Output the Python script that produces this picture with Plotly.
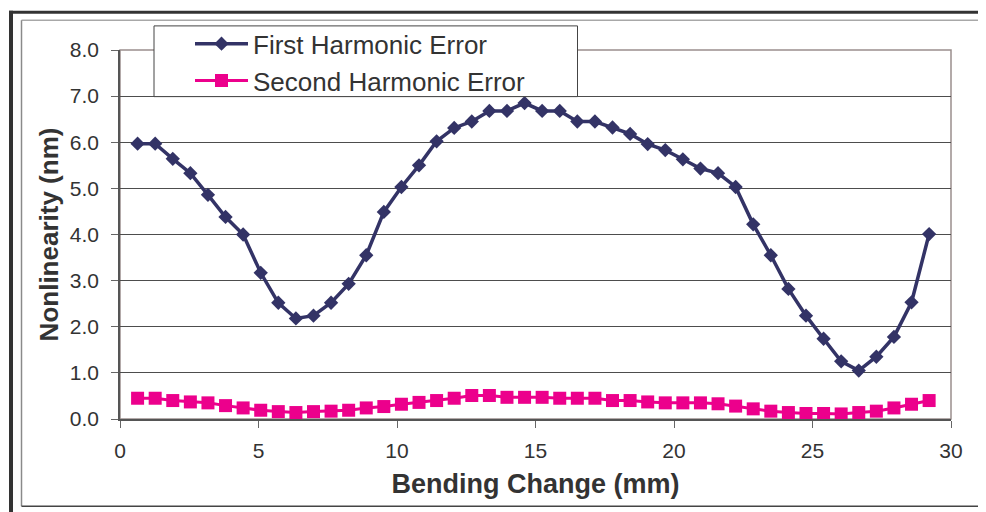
import plotly.graph_objects as go

# ---------------- data ----------------
bending_change_mm = [round(0.635 * k, 3) for k in range(1, 47)]

first_harmonic_error = [
    5.97, 5.97, 5.64, 5.33, 4.86, 4.38, 4.00, 3.17, 2.52, 2.18,
    2.24, 2.52, 2.93, 3.55, 4.49, 5.03, 5.50, 6.02, 6.31, 6.45,
    6.68, 6.68, 6.85, 6.68, 6.68, 6.45, 6.45, 6.32, 6.18, 5.96,
    5.83, 5.63, 5.43, 5.33, 5.03, 4.22, 3.55, 2.82, 2.24, 1.74,
    1.25, 1.05, 1.35, 1.78, 2.53, 4.01,
]

second_harmonic_error = [
    0.45, 0.45, 0.40, 0.37, 0.35, 0.29, 0.24, 0.19, 0.16, 0.14,
    0.16, 0.17, 0.19, 0.24, 0.27, 0.32, 0.36, 0.40, 0.45, 0.51,
    0.51, 0.47, 0.47, 0.47, 0.45, 0.45, 0.45, 0.40, 0.40, 0.37,
    0.35, 0.35, 0.35, 0.33, 0.28, 0.22, 0.17, 0.14, 0.12, 0.12,
    0.11, 0.14, 0.17, 0.24, 0.32, 0.40,
]

y_tick_values = [0, 1, 2, 3, 4, 5, 6, 7, 8]
y_tick_labels = ["0.0", "1.0", "2.0", "3.0", "4.0", "5.0", "6.0", "7.0", "8.0"]
x_tick_values = [0, 5, 10, 15, 20, 25, 30]

# ---------------- figure ----------------
# page body has an 8px margin, so the figure is offset by 8px in the window
OFF = 8
WIN_W, WIN_H = 986, 512
W, H = WIN_W - OFF, WIN_H - OFF
# plot area in window pixels
PL, PR, PT, PB = 120, 951, 47, 419
PW, PH = PR - PL, PB - PT


def px(x):
    return (x - PL) / PW


def py(y):
    return (PB - y) / PH


NAVY = "#333366"
MAGENTA = "#EC008C"
FONT = "Liberation Sans, Arial, Helvetica, sans-serif"

fig = go.Figure()
fig.add_trace(go.Scatter(
    x=bending_change_mm, y=first_harmonic_error, name="First Harmonic Error",
    mode="lines+markers",
    line=dict(color=NAVY, width=3.5),
    marker=dict(symbol="diamond", size=11, color=NAVY),
))
fig.add_trace(go.Scatter(
    x=bending_change_mm, y=second_harmonic_error, name="Second Harmonic Error",
    mode="lines+markers",
    line=dict(color=MAGENTA, width=3),
    marker=dict(symbol="square", size=13, color=MAGENTA),
))

shapes = []
# plot area border (top / right grey)
shapes.append(dict(type="rect", xref="paper", yref="paper", x0=0, x1=1, y0=0, y1=1,
                   line=dict(color="#9a8f8d", width=1.5), layer="below"))
# legend box
shapes.append(dict(type="rect", xref="paper", yref="paper",
                   x0=px(154), x1=px(577.5), y0=py(94), y1=py(22.7),
                   fillcolor="white", line=dict(color="#444444", width=1), layer="above"))
# outer thick frame (top & left)
shapes.append(dict(type="line", xref="paper", yref="paper",
                   x0=px(9), x1=px(990), y0=py(9), y1=py(9),
                   line=dict(color="#333333", width=3)))
shapes.append(dict(type="line", xref="paper", yref="paper",
                   x0=px(11), x1=px(11), y0=py(7.5), y1=py(515),
                   line=dict(color="#333333", width=4)))
# inner thin frame
shapes.append(dict(type="line", xref="paper", yref="paper",
                   x0=px(21.5), x1=px(985), y0=py(17), y1=py(17),
                   line=dict(color="#a8a8a8", width=1.5)))
shapes.append(dict(type="line", xref="paper", yref="paper",
                   x0=px(21.5), x1=px(21.5), y0=py(17), y1=py(507),
                   line=dict(color="#8a8a8a", width=1.5)))
shapes.append(dict(type="line", xref="paper", yref="paper",
                   x0=px(984.5), x1=px(984.5), y0=py(17), y1=py(507),
                   line=dict(color="#333333", width=1.5)))
shapes.append(dict(type="line", xref="paper", yref="paper",
                   x0=px(21.5), x1=px(985), y0=py(507), y1=py(507),
                   line=dict(color="#444444", width=1.5)))

fig.update_layout(
    width=W, height=H,
    margin=dict(l=PL - OFF, r=WIN_W - PR, t=PT - OFF, b=WIN_H - PB),
    paper_bgcolor="white", plot_bgcolor="white",
    font=dict(family=FONT, color="#333333"),
    shapes=shapes,
    showlegend=True,
    legend=dict(
        x=px(190), y=py(17), xanchor="left", yanchor="top",
        bgcolor="rgba(0,0,0,0)", borderwidth=0,
        font=dict(family=FONT, size=26, color="#333333"),
        itemwidth=53, tracegroupgap=0,
    ),
    xaxis=dict(
        range=[0, 30], tickvals=x_tick_values,
        showgrid=False, zeroline=False,
        showline=True, linecolor="#555555", linewidth=1.5,
        ticks="outside", ticklen=7, tickcolor="#666666",
        tickfont=dict(family=FONT, size=21, color="#333333"),
        ticklabelstandoff=5,
        title=dict(text="<b>Bending Change (mm)</b>",
                   font=dict(family=FONT, size=27, color="#333333"), standoff=13),
    ),
    yaxis=dict(
        range=[0, 8], tickvals=y_tick_values, ticktext=y_tick_labels,
        showgrid=True, gridcolor="#4d4d4d", gridwidth=1,
        zeroline=False,
        showline=True, linecolor="#555555", linewidth=1.5,
        ticks="outside", ticklen=7, tickcolor="#666666",
        tickfont=dict(family=FONT, size=21, color="#333333"),
        ticklabelstandoff=8,
        title=dict(text="<b>Nonlinearity (nm)</b>",
                   font=dict(family=FONT, size=26, color="#333333"), standoff=4),
    ),
)

fig.write_html("out.html")
